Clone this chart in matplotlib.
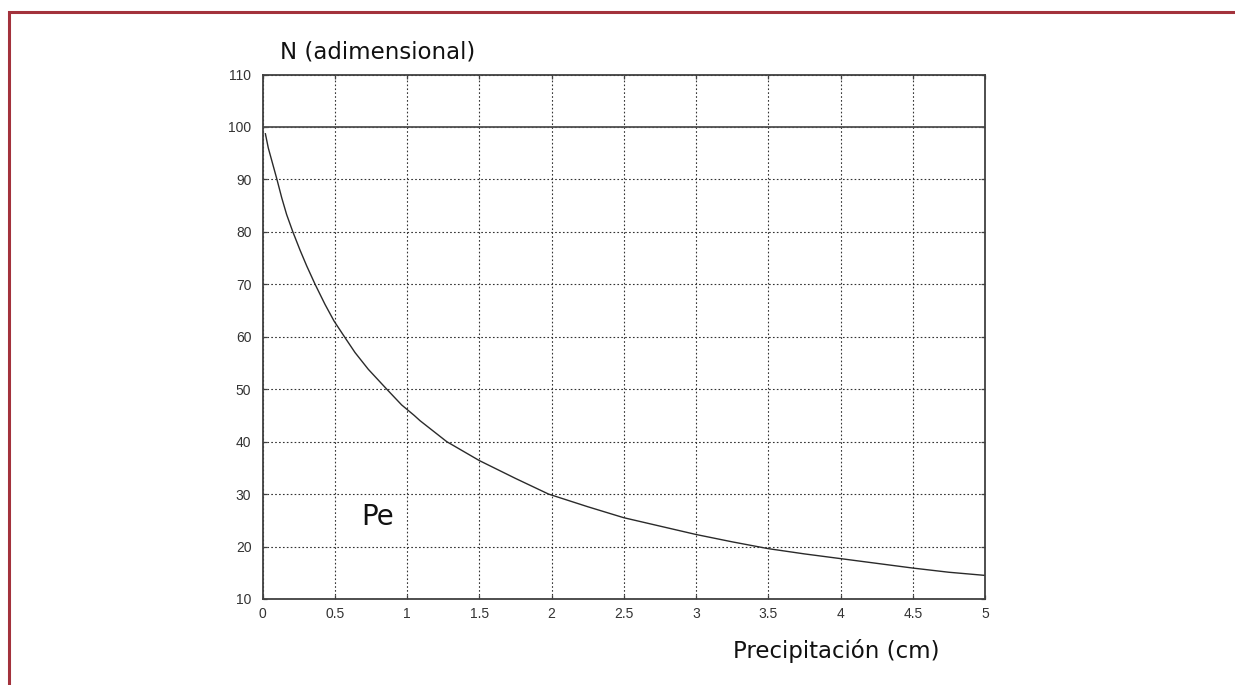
import numpy as np
import matplotlib.pyplot as plt
from matplotlib.lines import Line2D

# values
precip = [0.02, 0.04, 0.07, 0.10, 0.133, 0.167, 0.21, 0.26, 0.306, 0.364, 0.432,
          0.495, 0.567, 0.64, 0.732, 0.86, 0.963, 1.05, 1.09, 1.275, 1.5, 1.75,
          1.98, 2.25, 2.5, 2.75, 3.0, 3.25, 3.5, 3.75, 4.0, 4.25, 4.5, 4.75, 5.0]
n_values = [98.7, 96.0, 93.0, 90.0, 86.5, 83.3, 80.0, 76.5, 73.5, 70.0, 66.2,
            63.0, 60.0, 57.0, 53.8, 50.0, 47.0, 45.0, 44.0, 40.0, 36.4, 33.0,
            30.0, 27.6, 25.5, 23.9, 22.3, 20.9, 19.6, 18.6, 17.7, 16.8, 15.9, 15.1, 14.5]
ref_level = 100

x_ticks = [0, 0.5, 1, 1.5, 2, 2.5, 3, 3.5, 4, 4.5, 5]
x_labels = ["0", "0.5", "1", "1.5", "2", "2.5", "3", "3.5", "4", "4.5", "5"]
y_ticks = [10, 20, 30, 40, 50, 60, 70, 80, 90, 100, 110]

W, H = 1235, 685
fig = plt.figure(figsize=(W / 100, H / 100), dpi=100)
fig.patch.set_facecolor("white")

# axes box in pixels: left 262.5, right 985, top 74.5, bottom 599
ax = fig.add_axes([262.5 / W, (H - 599) / H, (985 - 262.5) / W, (599 - 74.5) / H])

ax.plot(precip, n_values, color="#2a2a2a", lw=1.0)
ax.axhline(ref_level, color="#505050", lw=1.3)

ax.set_xlim(0, 5)
ax.set_ylim(10, 110)
ax.set_xticks(x_ticks)
ax.set_xticklabels(x_labels)
ax.set_yticks(y_ticks)

ax.grid(True, color="#333333", lw=0.8, linestyle=(0, (1.5, 2.0)))
ax.tick_params(direction="in", length=3, width=0.9, color="#404040",
               top=True, right=True, labelsize=10, labelcolor="#333333")
ax.tick_params(axis="x", pad=6)
ax.tick_params(axis="y", pad=8)
for lab in ax.get_xticklabels() + ax.get_yticklabels():
    lab.set_family("Liberation Sans")
for sp in ax.spines.values():
    sp.set_color("#404040")
    sp.set_linewidth(1.3)

ax.text(0.024, 1.031, "N (adimensional)", transform=ax.transAxes,
        fontsize=16.5, ha="left", va="baseline", color="#111111")
ax.text(0.651, -0.112, "Precipitación (cm)", transform=ax.transAxes,
        fontsize=16.5, ha="left", va="baseline", color="#111111")
ax.text(0.68, 24.1, "Pe", fontsize=20, ha="left", va="baseline", color="#111111")

# frame around the picture (top and left edges)
x0 = 8.7 / W
y0 = 1 - 11.5 / H
fig.add_artist(Line2D([x0, x0, 1], [0, y0, y0], transform=fig.transFigure,
                      color="#a3323c", lw=2.2, solid_joinstyle="miter"))

fig.savefig("out.png", dpi=100)
